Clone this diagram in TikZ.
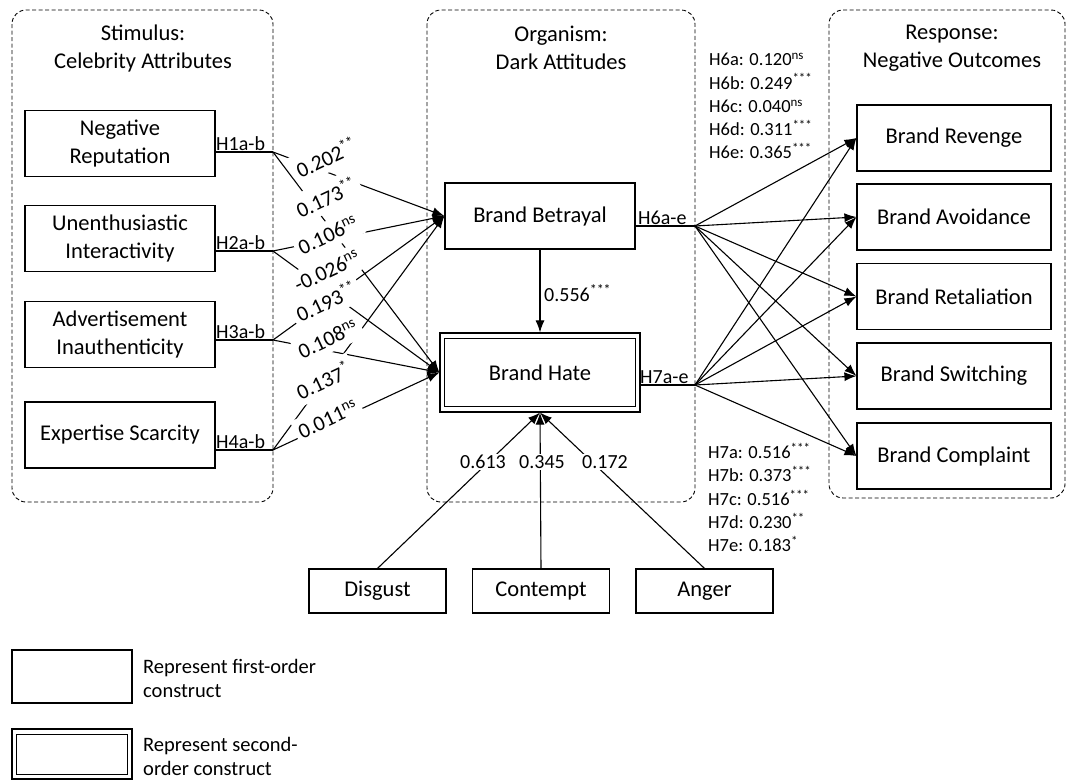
\documentclass[tikz,border=0pt]{standalone}
\usepackage{fontspec}
\setmainfont{Carlito}
\usetikzlibrary{arrows.meta,calc}
\begin{document}
\begin{tikzpicture}[x=1pt,y=-1pt,
  box/.style={draw, line width=1.2pt, minimum width=190pt, minimum height=66pt, inner sep=0pt, align=center, font=\fontsize{22.5}{27.5}\selectfont},
  smallbox/.style={draw, line width=1.2pt, minimum width=137pt, minimum height=44pt, inner sep=0pt, font=\fontsize{22.5}{27.5}\selectfont},
  group/.style={draw, line width=0.9pt, dash pattern=on 4pt off 2.5pt, rounded corners=14pt},
  head/.style={align=center, font=\fontsize{22.5}{28}\selectfont},
  conn/.style={line width=1.1pt, -{Latex[length=12pt,width=9pt]}},
  plainline/.style={line width=1.1pt},
  coef/.style={inner sep=0.5pt, rotate=25, font=\fontsize{21.5}{24}\selectfont},
  coefbg/.style={coef, fill=white, inner xsep=4pt, inner ysep=6pt},
  hlab/.style={inner sep=1pt, font=\fontsize{20}{23}\selectfont},
  hblock/.style={anchor=north west, align=left, inner sep=0pt, font=\fontsize{18.5}{23.3}\selectfont},
  legtext/.style={anchor=west, align=left, inner sep=0pt, font=\fontsize{20.5}{24}\selectfont}
]
\useasboundingbox (0,0) rectangle (1069,780);

% groups
\draw[group] (12,10) rectangle (273,502);
\draw[group] (427,10) rectangle (695,502);
\draw[group] (829,10) rectangle (1065,498);

% headers
\node[head] (hS) at (143,48) {Stimulus:\\Celebrity Attributes};
\node[head] (hO) at (561,48) {Organism:\\Dark Attitudes};
\node[head] (hR) at (952,48) {Response:\\Negative Outcomes};

% stimulus boxes
\node[box] (nr) at (120,143.5) {Negative\\Reputation};
\node[box] (ui) at (120,238.5) {Unenthusiastic\\Interactivity};
\node[box] (ai) at (120,334.5) {Advertisement\\Inauthenticity};
\node[box] (es) at (120,435) {Expertise Scarcity};

% organism boxes
\node[box] (bb) at (540,216) {Brand Betrayal};
\node[box, minimum width=200pt, minimum height=79pt] (bh) at (540,372.5) {Brand Hate};
\draw[line width=1.2pt] ([shift={(5,6)}]bh.north west) rectangle ([shift={(-5,-6)}]bh.south east);

% response boxes
\node[box, minimum width=194pt] (rv) at (954,138) {Brand Revenge};
\node[box, minimum width=194pt] (av) at (954,217) {Brand Avoidance};
\node[box, minimum width=194pt] (rt) at (954,296.5) {Brand Retaliation};
\node[box, minimum width=194pt] (sw) at (954,376) {Brand Switching};
\node[box, minimum width=194pt] (cp) at (954,456) {Brand Complaint};

% emotion boxes
\node[smallbox] (dg) at (377.5,591) {Disgust};
\node[smallbox] (ct) at (541,591) {Contempt};
\node[smallbox] (an) at (704.5,591) {Anger};

% junctions
\coordinate (j1) at (273,152);
\coordinate (j2) at (273,251);
\coordinate (j3) at (273,340);
\coordinate (j4) at (273,450);
\coordinate (j6) at (695,226);
\coordinate (j7) at (695,385);

% stimulus -> organism
\draw[plainline] (j1 -| nr.east) -- (j1);
\draw[plainline] (j2 -| ui.east) -- (j2);
\draw[plainline] (j3 -| ai.east) -- (j3);
\draw[plainline] (j4 -| es.east) -- (j4);
\foreach \j in {j1,j2,j3,j4}{
  \draw[conn] (\j) -- (bb.west);
  \draw[conn] (\j) -- (bh.west);
}
\node[hlab, anchor=south west] (h1) at (215,152) {H1a-b};
\node[hlab, anchor=south west] (h2) at (215,251) {H2a-b};
\node[hlab, anchor=south west] (h3) at (215,340) {H3a-b};
\node[hlab, anchor=south west] (h4) at (215,450) {H4a-b};

% organism -> response
\draw[plainline] (j6 -| bb.east) -- (j6);
\draw[plainline] (j7 -| bh.east) -- (j7);
\foreach \t in {rv,av,rt,sw,cp}{
  \draw[conn] (j6) -- (\t.west);
  \draw[conn] (j7) -- (\t.west);
}
\node[hlab, anchor=south west] (h6) at (637,226) {H6a-e};
\node[hlab, anchor=south west] (h7) at (639,385) {H7a-e};

% betrayal -> hate
\draw[conn] (bb.south) -- (bh.north);
\node[hlab, anchor=west] (l556) at (543,293) {0.556\textsuperscript{***}};

% emotions -> hate
\draw[conn] (dg.north) -- (bh.south);
\draw[conn] (ct.north) -- (bh.south);
\draw[conn] (an.north) -- (bh.south);
\node[hlab, fill=white] (l613) at (483,462) {0.613};
\node[hlab, fill=white] (l345) at (542,462) {0.345};
\node[hlab, fill=white] (l172) at (605,462) {0.172};

% coefficient labels: white backgrounds first, then texts
\foreach \n/\x/\y/\t in {c1/326/157/{0.202\textsuperscript{**}}, c2/326/197/{0.173\textsuperscript{**}},
  c3/328/235/{0.106\textsuperscript{ns}}, c4/327/271/{-0.026\textsuperscript{ns}},
  c5/326/301/{0.193\textsuperscript{**}}, c6/328/339/{0.108\textsuperscript{ns}},
  c7/323/380/{0.137\textsuperscript{*}}, c8/328/419/{0.011\textsuperscript{ns}}}{
  \node[coefbg] (\n bg) at (\x,\y) {\phantom{\t}};
}
\foreach \n/\x/\y/\t in {c1/326/157/{0.202\textsuperscript{**}}, c2/326/197/{0.173\textsuperscript{**}},
  c3/328/235/{0.106\textsuperscript{ns}}, c4/327/271/{-0.026\textsuperscript{ns}},
  c5/326/301/{0.193\textsuperscript{**}}, c6/328/339/{0.108\textsuperscript{ns}},
  c7/323/380/{0.137\textsuperscript{*}}, c8/328/419/{0.011\textsuperscript{ns}}}{
  \node[coef] (\n) at (\x,\y) {\t};
}

% hypothesis blocks
\node[hblock] (b6) at (709,53) {H6a: 0.120\textsuperscript{ns}\\H6b: 0.249\textsuperscript{***}\\H6c: 0.040\textsuperscript{ns}\\H6d: 0.311\textsuperscript{***}\\H6e: 0.365\textsuperscript{***}};
\node[hblock] (b7) at (708,443) {H7a: 0.516\textsuperscript{***}\\H7b: 0.373\textsuperscript{***}\\H7c: 0.516\textsuperscript{***}\\H7d: 0.230\textsuperscript{**}\\H7e: 0.183\textsuperscript{*}};

% legend
\node[draw, line width=1.2pt, minimum width=120pt, minimum height=53pt, inner sep=0pt] (lg1) at (72,676.5) {};
\node[legtext] (lt1) at (143,678) {Represent first-order\\construct};
\node[draw, line width=1.2pt, minimum width=120pt, minimum height=50pt, inner sep=0pt] (lg2) at (72,754) {};
\draw[line width=1.2pt] ([shift={(5,6)}]lg2.north west) rectangle ([shift={(-5,-5)}]lg2.south east);
\node[legtext] (lt2) at (143,756.5) {Represent second-\\order construct};
\end{tikzpicture}
\end{document}
